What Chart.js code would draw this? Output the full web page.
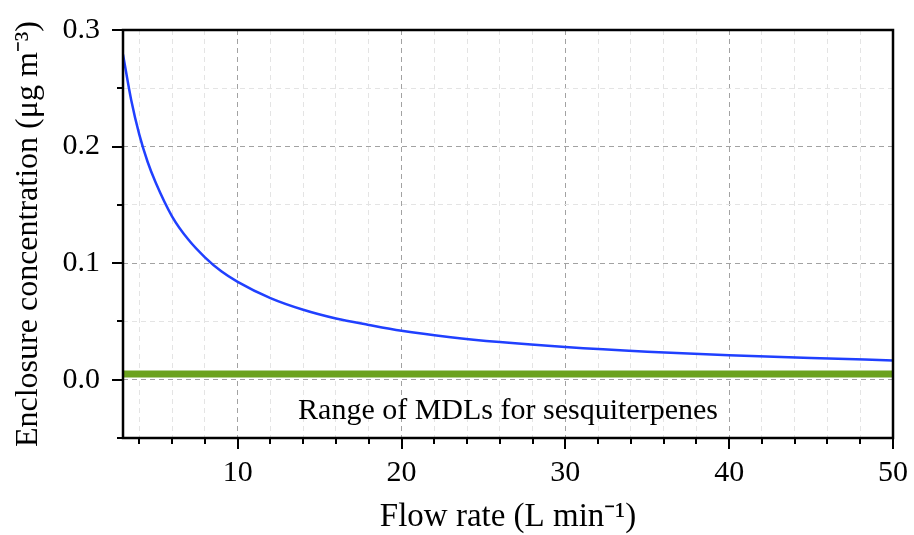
<!DOCTYPE html>
<html>
<head>
<meta charset="utf-8">
<script src="https://cdn.jsdelivr.net/npm/chart.js@4"></script>
<style>
    html, body { margin: 0; padding: 0; background: #fff; }
    #wrap { width: 914px; height: 535px; }
</style>
</head>
<body>
<div id="wrap"><canvas id="chart" width="914" height="535"></canvas></div>
<script>
    // flow rate (L/min) and enclosure concentration
    const flowRates = [3, 3.5, 4, 4.5, 5, 6, 7, 8, 9, 10, 12, 14, 16, 18, 20, 23, 26, 30, 35, 40, 45, 50];
    const concentrations = [0.279, 0.24, 0.21, 0.187, 0.169, 0.14, 0.12, 0.105, 0.093, 0.084, 0.07, 0.06,
        0.0525, 0.047, 0.042, 0.0365, 0.0323, 0.028, 0.024, 0.021, 0.0187, 0.0165];

    // MDL range band
    const mdlX = [3, 50];
    const mdlY = [0.005, 0.005];
    const mdlLabel = 'Range of MDLs for sesquiterpenes';
    const mdlLabelPos = [26.5, -0.027];

    // axis ticks
    const xTicks = [4, 6, 8, 10, 12, 14, 16, 18, 20, 22, 24, 26, 28, 30, 32, 34, 36, 38, 40, 42, 44, 46, 48, 50];
    const xMajor = [10, 20, 30, 40, 50];
    const yTicks = [-0.05, 0, 0.05, 0.1, 0.15, 0.2, 0.25, 0.3];
    const yMajor = [0, 0.1, 0.2, 0.3];

    const isMajor = (list, v) => list.some(m => Math.abs(m - v) < 1e-9);
    const FONT = "'Liberation Serif', 'Times New Roman', serif";

    const frameAndTicks = {
        id: 'frameAndTicks',
        afterDraw(chart) {
            const ctx = chart.ctx;
            const a = chart.chartArea;
            const xs = chart.scales.x, ys = chart.scales.y;
            ctx.save();
            ctx.strokeStyle = '#000';
            ctx.lineWidth = 2;
            ctx.beginPath();
            xTicks.forEach(v => {
                const px = Math.round(xs.getPixelForValue(v));
                const len = isMajor(xMajor, v) ? 11 : 6;
                ctx.moveTo(px, a.bottom);
                ctx.lineTo(px, a.bottom + len);
            });
            yTicks.forEach(v => {
                const py = Math.round(ys.getPixelForValue(v));
                const len = isMajor(yMajor, v) ? 11 : 6;
                ctx.moveTo(a.left, py);
                ctx.lineTo(a.left - len, py);
            });
            ctx.stroke();
            ctx.lineWidth = 2.5;
            ctx.strokeRect(a.left, a.top, a.right - a.left, a.bottom - a.top);

            // annotation text
            ctx.fillStyle = '#000';
            ctx.font = '30px ' + FONT;
            ctx.textAlign = 'center';
            ctx.textBaseline = 'middle';
            ctx.fillText(mdlLabel, xs.getPixelForValue(mdlLabelPos[0]), ys.getPixelForValue(mdlLabelPos[1]));
            ctx.restore();
        }
    };

    const gridColor = c => (c.tick && isMajor(c.scale.axis === 'x' ? xMajor : yMajor, c.tick.value)) ? '#a2a2a2' : '#e4e4e4';

    new Chart(document.getElementById('chart'), {
        type: 'line',
        data: {
            datasets: [{
                label: 'Enclosure concentration',
                data: flowRates.map((x, i) => ({ x: x, y: concentrations[i] })),
                borderColor: '#2040ff',
                borderWidth: 2.5,
                pointRadius: 0,
                cubicInterpolationMode: 'monotone',
                fill: false
            }, {
                label: 'MDL',
                data: mdlX.map((x, i) => ({ x: x, y: mdlY[i] })),
                borderColor: '#6ba21e',
                borderWidth: 7,
                pointRadius: 0,
                fill: false
            }]
        },
        options: {
            responsive: false,
            animation: false,
            layout: { padding: { left: 0, right: 21, top: 27, bottom: 0 } },
            plugins: { legend: { display: false }, tooltip: { enabled: false } },
            scales: {
                x: {
                    type: 'linear',
                    min: 3,
                    max: 50,
                    afterBuildTicks: s => { s.ticks = xTicks.map(v => ({ value: v })); },
                    afterFit: s => { s.height = 97; },
                    ticks: {
                        autoSkip: false,
                        maxRotation: 0,
                        padding: 6,
                        color: '#000',
                        font: { family: FONT, size: 30 },
                        callback: v => isMajor(xMajor, v) ? String(v) : ''
                    },
                    grid: {
                        color: gridColor,
                        lineWidth: 1,
                        tickLength: 11,
                        tickColor: 'transparent'
                    },
                    border: { display: false, dash: [5, 4] },
                    title: {
                        display: true,
                        text: 'Flow rate (L min⁻¹)',
                        color: '#000',
                        font: { family: FONT, size: 33, lineHeight: 1 },
                        padding: { top: 0, bottom: 1 }
                    }
                },
                y: {
                    type: 'linear',
                    min: -0.05,
                    max: 0.3,
                    afterBuildTicks: s => { s.ticks = yTicks.map(v => ({ value: v })); },
                    afterFit: s => { s.width = 123; },
                    ticks: {
                        autoSkip: false,
                        padding: 12,
                        color: '#000',
                        font: { family: FONT, size: 30 },
                        callback: v => isMajor(yMajor, v) ? v.toFixed(1) : ''
                    },
                    grid: {
                        color: gridColor,
                        lineWidth: 1,
                        tickLength: 11,
                        tickColor: 'transparent'
                    },
                    border: { display: false, dash: [5, 4] },
                    title: {
                        display: true,
                        text: 'Enclosure concentration (μg m⁻³)',
                        color: '#000',
                        font: { family: FONT, size: 32, lineHeight: 1.2 },
                        padding: { top: 9, bottom: 0 }
                    }
                }
            }
        },
        plugins: [frameAndTicks]
    });
</script>
</body>
</html>
